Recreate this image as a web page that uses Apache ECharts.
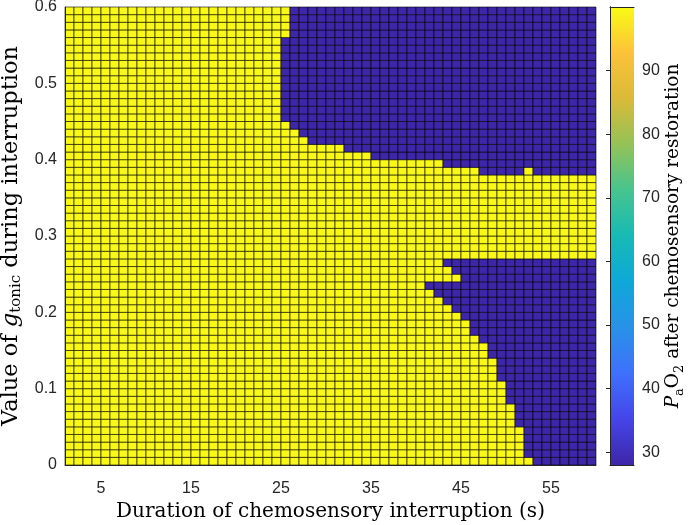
<!DOCTYPE html>
<html>
<head>
<meta charset="utf-8">
<script src="https://cdn.jsdelivr.net/npm/echarts@6/dist/echarts.min.js"></script>
<style>html,body{margin:0;padding:0;background:#fff;}#c{width:690px;height:525px;}</style>
</head>
<body>
<div id="c"></div>
<script>
// Duration of chemosensory interruption (s): left edge of each cell
const durations = [1,2,3,4,5,6,7,8,9,10,11,12,13,14,15,16,17,18,19,20,21,22,23,24,25,26,27,28,29,30,
  31,32,33,34,35,36,37,38,39,40,41,42,43,44,45,46,47,48,49,50,51,52,53,54,55,56,57,58,59];
// g_tonic during interruption: lower edge of each cell
const gTonic = [0.00,0.01,0.02,0.03,0.04,0.05,0.06,0.07,0.08,0.09,0.10,0.11,0.12,0.13,0.14,0.15,0.16,0.17,0.18,0.19,
  0.20,0.21,0.22,0.23,0.24,0.25,0.26,0.27,0.28,0.29,0.30,0.31,0.32,0.33,0.34,0.35,0.36,0.37,0.38,0.39,
  0.40,0.41,0.42,0.43,0.44,0.45,0.46,0.47,0.48,0.49,0.50,0.51,0.52,0.53,0.54,0.55,0.56,0.57,0.58,0.59];
// For each gTonic row: first duration from which PaO2 stays low (null = never low)
const lowFromDuration = [53,52,52,52,52,51,51,51,50,50,50,49,49,49,48,48,47,46,46,45,
  44,43,42,41,45,44,43,null,null,null,null,null,null,null,null,null,null,null,47,43,
  35,32,28,27,26,25,25,25,25,25,25,25,25,25,25,25,26,26,26,26];
// Isolated high cells inside a low run: [duration, gTonic]
const highIslands = [[52, 0.38]];
const paO2High = 99.6;
const paO2Low = 28.1;
const xTicks = [5, 15, 25, 35, 45, 55];
const yTicks = [0, 0.1, 0.2, 0.3, 0.4, 0.5, 0.6];
const cbTicks = [30, 40, 50, 60, 70, 80, 90];
const cbRange = [28, 100];
const parula = ['#3E26A8','#4545E8','#3F70FC','#2991E8','#0FA8D9','#17BAB5','#47C48F','#94C257','#D9BA38','#FCC23A','#F9FB15'];

const cellW = durations[1] - durations[0];
const cellH = +(gTonic[1] - gTonic[0]).toFixed(4);

const cells = [];
gTonic.forEach((g, j) => {
  durations.forEach((d) => {
    let v = (lowFromDuration[j] !== null && d >= lowFromDuration[j]) ? paO2Low : paO2High;
    if (highIslands.some(h => h[0] === d && Math.abs(h[1] - g) < 1e-9)) v = paO2High;
    cells.push([d, g, v]);
  });
});

const tickFont = {fontFamily: 'Liberation Sans, Arial, sans-serif', fontSize: 16, color: '#262626'};
const serif = 'DejaVu Serif, serif';
const titleSize = 20;
function richTitle(size) {
  return {
    r: {fontFamily: serif, fontSize: size, color: '#000', lineHeight: 26},
    i: {fontFamily: serif, fontSize: size, fontStyle: 'italic', color: '#000', lineHeight: 26},
    s: {fontFamily: serif, fontSize: Math.round(size * 0.68), color: '#000', verticalAlign: 'bottom', lineHeight: 14}
  };
}

const chart = echarts.init(document.getElementById('c'), null, {renderer: 'canvas'});
chart.setOption({
  animation: false,
  backgroundColor: '#fff',
  grid: [
    {left: 65, top: 7, width: 531, height: 458, containLabel: false, outerBoundsMode: 'none'},
    {left: 610, top: 7, width: 24, height: 458, containLabel: false, outerBoundsMode: 'none'}
  ],
  visualMap: {
    show: false, type: 'continuous', min: cbRange[0], max: cbRange[1],
    dimension: 2, seriesIndex: 0, inRange: {color: parula}
  },
  xAxis: [
    {
      type: 'value', gridIndex: 0, min: durations[0], max: durations[durations.length - 1] + cellW,
      name: 'Duration of chemosensory interruption (s)', nameLocation: 'middle', nameGap: 35,
      nameTextStyle: {fontFamily: serif, fontSize: titleSize, color: '#000'},
      axisLine: {show: true, onZero: false, lineStyle: {color: '#262626', width: 1}},
      axisTick: {show: false},
      splitLine: {show: false},
      axisLabel: Object.assign({customValues: xTicks, margin: 16}, tickFont),
      z: 10
    },
    {
      type: 'value', gridIndex: 1, min: 0, max: 1, show: true,
      axisLine: {show: true, lineStyle: {color: '#262626', width: 1}},
      axisTick: {show: false}, axisLabel: {show: false}, splitLine: {show: false}, z: 10
    },
    {
      type: 'value', gridIndex: 1, min: 0, max: 1, position: 'top', show: true,
      axisLine: {show: true, lineStyle: {color: '#262626', width: 1}},
      axisTick: {show: false}, axisLabel: {show: false}, splitLine: {show: false}, z: 10
    }
  ],
  yAxis: [
    {
      type: 'value', gridIndex: 0, min: 0, max: 0.6, interval: 0.1,
      name: '{r|Value of }{i|g}{s|tonic}{r| during interruption}',
      nameLocation: 'middle', nameGap: 23, nameRotate: 90,
      nameTextStyle: {rich: richTitle(22.5)},
      axisLine: {show: true, lineStyle: {color: '#262626', width: 1}},
      axisTick: {show: false},
      splitLine: {show: false},
      axisLabel: Object.assign({margin: 8, formatter: v => String(+v.toFixed(1))}, tickFont),
      z: 10
    },
    {
      type: 'value', gridIndex: 1, min: cbRange[0], max: cbRange[1], position: 'right',
      name: '{i|P}{s|a}{r|O}{s|2}{r| after chemosensory restoration}',
      nameLocation: 'middle', nameGap: 20, nameRotate: 90,
      nameTextStyle: {rich: richTitle(18.5)},
      axisLine: {show: true, lineStyle: {color: '#262626', width: 1}},
      axisTick: {show: true, inside: true, length: 4, customValues: cbTicks, lineStyle: {color: '#262626'}},
      splitLine: {show: false},
      axisLabel: Object.assign({customValues: cbTicks, margin: 8}, tickFont),
      z: 10
    },
    {
      type: 'value', gridIndex: 1, min: cbRange[0], max: cbRange[1], position: 'left',
      axisLine: {show: true, lineStyle: {color: '#262626', width: 1}},
      axisTick: {show: false}, axisLabel: {show: false}, splitLine: {show: false}, z: 10
    }
  ],
  series: [
    {
      type: 'custom', xAxisIndex: 0, yAxisIndex: 0, data: cells,
      encode: {x: 0, y: 1},
      renderItem: function (params, api) {
        const x = api.value(0), y = api.value(1);
        const p0 = api.coord([x, y + cellH]);
        const p1 = api.coord([x + cellW, y]);
        return {
          type: 'rect',
          shape: {x: p0[0], y: p0[1], width: p1[0] - p0[0], height: p1[1] - p0[1]},
          style: {fill: api.visual('color'), stroke: 'rgba(0,0,0,0.85)', lineWidth: 0.7}
        };
      }
    },
    {
      type: 'custom', xAxisIndex: 1, yAxisIndex: 1, data: [[0, cbRange[0], cbRange[1]]],
      renderItem: function (params, api) {
        const p0 = api.coord([0, api.value(2)]);
        const p1 = api.coord([1, api.value(1)]);
        return {
          type: 'rect',
          shape: {x: p0[0], y: p0[1], width: p1[0] - p0[0], height: p1[1] - p0[1]},
          style: {
            fill: new echarts.graphic.LinearGradient(0, 1, 0, 0,
              parula.map((c, k) => ({offset: k / (parula.length - 1), color: c})))
          }
        };
      }
    }
  ]
});
</script>
</body>
</html>
